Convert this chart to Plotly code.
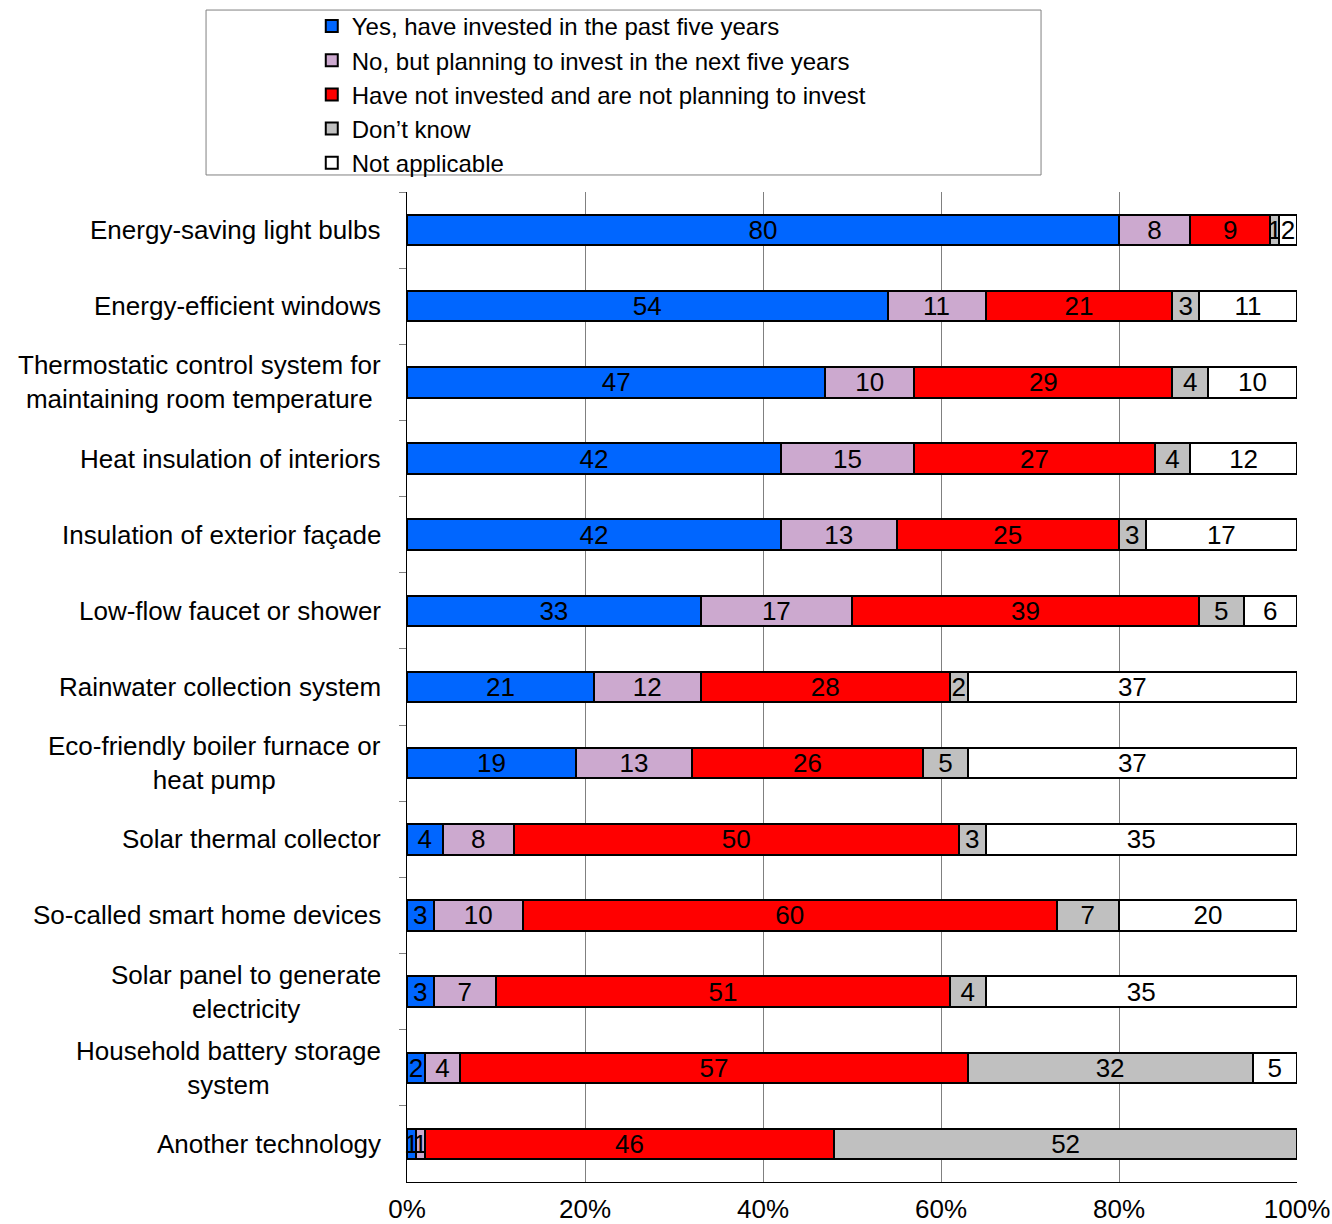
import plotly.graph_objects as go

categories = [
    "Energy-saving light bulbs",
    "Energy-efficient windows",
    "Thermostatic control system for<br>maintaining room temperature",
    "Heat insulation of interiors",
    "Insulation of exterior façade",
    "Low-flow faucet or shower",
    "Rainwater collection system",
    "Eco-friendly boiler furnace or<br>heat pump",
    "Solar thermal collector",
    "So-called smart home devices",
    "Solar panel to generate<br>electricity",
    "Household battery storage<br>system",
    "Another technology",
]
series_names = [
    "Yes, have invested in the past five years",
    "No, but planning to invest in the next five years",
    "Have not invested and are not planning to invest",
    "Don’t know",
    "Not applicable",
]
yes_invested = [80, 54, 47, 42, 42, 33, 21, 19, 4, 3, 3, 2, 1]
planning = [8, 11, 10, 15, 13, 17, 12, 13, 8, 10, 7, 4, 1]
not_planning = [9, 21, 29, 27, 25, 39, 28, 26, 50, 60, 51, 57, 46]
dont_know = [1, 3, 4, 4, 3, 5, 2, 5, 3, 7, 4, 32, 52]
not_applicable = [2, 11, 10, 12, 17, 6, 37, 37, 35, 20, 35, 5, 0]
x_ticks = [0, 20, 40, 60, 80, 100]
x_tick_labels = ["0%", "20%", "40%", "60%", "80%", "100%"]

series_values = [yes_invested, planning, not_planning, dont_know, not_applicable]
colors = ["#0066FF", "#CCA9CF", "#FF0000", "#C0C0C0", "#FFFFFF"]

FONT = "Liberation Sans, Arial, sans-serif"
FS = 26

fig = go.Figure()
for name, vals, col in zip(series_names, series_values, colors):
    fig.add_trace(go.Bar(
        y=categories, x=vals, name=name, orientation="h",
        marker=dict(color=col, line=dict(color="#000000", width=2)),
        text=[str(v) if v else "" for v in vals],
        textposition="inside", insidetextanchor="middle", textangle=0,
        textfont=dict(family=FONT, size=FS, color="#000000"),
        cliponaxis=False,
    ))

# category labels (centred multi-line, Excel style)
for cat in categories:
    fig.add_annotation(
        x=0, y=cat, xref="paper", yref="y", text=cat, showarrow=False,
        xanchor="right", yanchor="middle", align="center", xshift=-24,
        font=dict(family=FONT, size=FS, color="#000000"),
    )

fig.update_layout(
    barmode="stack",
    bargap=0.6,
    width=1332, height=1224,
    margin=dict(l=407, r=35, t=192, b=42, autoexpand=False),
    paper_bgcolor="white", plot_bgcolor="white",
    font=dict(family=FONT, size=FS, color="#000000"),
    uniformtext=dict(minsize=FS, mode="show"),
    showlegend=True,
    legend=dict(
        x=-0.107, y=1.190, xanchor="left", yanchor="top",
        bgcolor="rgba(0,0,0,0)", borderwidth=0,
        traceorder="normal", itemwidth=30,
        font=dict(family=FONT, size=24, color="#000000"),
    ),
    xaxis=dict(
        range=[0, 100], tickvals=x_ticks, ticktext=x_tick_labels,
        showgrid=True, gridcolor="#808080", gridwidth=1,
        showline=True, linecolor="#000000", linewidth=1,
        zeroline=False, ticks="", fixedrange=True,
        ticklabelstandoff=4,
        tickfont=dict(family=FONT, size=FS),
    ),
    yaxis=dict(
        autorange="reversed", showticklabels=False,
        ticks="outside", tickson="boundaries", ticklen=7, tickcolor="#808080",
        showline=True, linecolor="#000000", linewidth=1,
        showgrid=False, zeroline=False,
    ),
)

# legend frame
fig.add_shape(type="rect", xref="paper", yref="paper",
              x0=-0.2258, x1=0.7124, y0=1.0172, y1=1.1838,
              line=dict(color="#808080", width=1), fillcolor="rgba(0,0,0,0)")

fig.write_html("out.html")
